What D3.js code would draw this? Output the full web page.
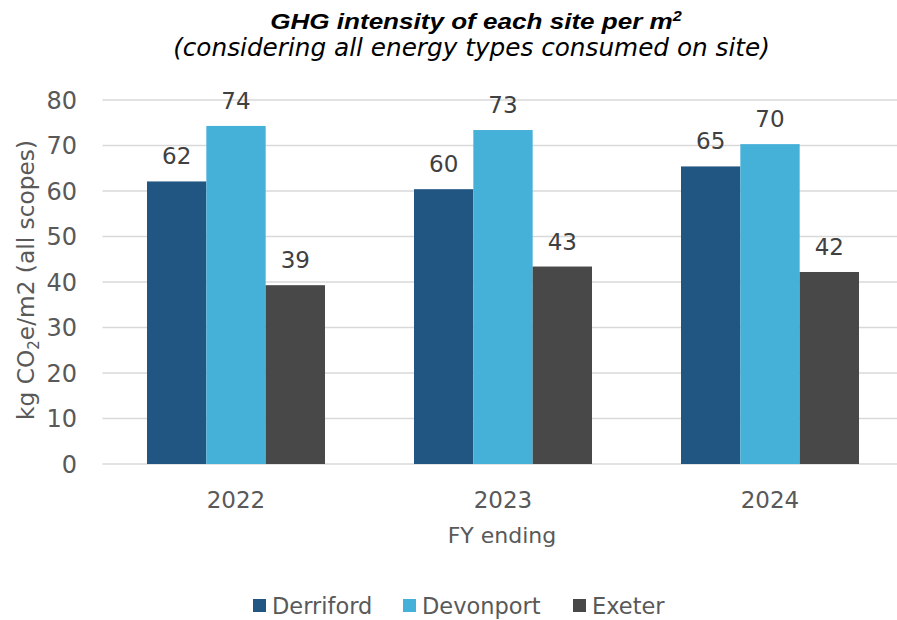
<!DOCTYPE html>
<html><head><meta charset="utf-8">
<script src="https://cdn.jsdelivr.net/npm/d3@7"></script>
<style>
html,body{margin:0;padding:0;background:#fff;}
svg text{font-family:"DejaVu Sans",sans-serif;}
svg text.ttl{font-family:"Liberation Sans",Arial,sans-serif;}
</style></head>
<body><svg id="c" width="897" height="620"></svg>
<script>
const categories = ["2022", "2023", "2024"];
const seriesNames = ["Derriford", "Devonport", "Exeter"];
const derriford = [62.1, 60.4, 65.4];
const devonport = [74.3, 73.4, 70.3];
const exeter = [39.3, 43.4, 42.2];
const yTicks = [0, 10, 20, 30, 40, 50, 60, 70, 80];
const colors = ["#215582", "#45B0D8", "#484848"];

const seriesValues = [derriford, devonport, exeter];
const svg = d3.select("#c");
const pLeft = 102.5, pRight = 903.5, pTop = 100, pBottom = 464;

// scale font-size of a text so its width matches target
function fit(sel, target) {
  const fs = parseFloat(sel.attr("font-size"));
  const w = sel.node().getBBox().width;
  sel.attr("font-size", fs * target / w);
}
// stretch a centered text horizontally to target width
function stretch(sel, cx, target) {
  const w = sel.node().getBBox().width;
  const k = target / w;
  sel.attr("transform", `translate(${cx},0) scale(${k},1) translate(${-cx},0)`);
}

const x = d3.scaleBand().domain(categories).range([pLeft, pRight]).paddingInner(0.3333).paddingOuter(0.16665);
const xs = d3.scaleBand().domain(seriesNames).range([0, x.bandwidth()]);
const y = d3.scaleLinear().domain([0, 80]).range([pBottom, pTop]);

// gridlines
svg.append("g").selectAll("line").data(yTicks).join("line")
  .attr("x1", pLeft).attr("x2", 897)
  .attr("y1", d => y(d)).attr("y2", d => y(d))
  .attr("stroke", "#d9d9d9").attr("stroke-width", 1.5);

// y tick labels
svg.append("g").selectAll("text").data(yTicks).join("text")
  .attr("x", 77).attr("y", d => y(d)).attr("dy", "0.36em")
  .attr("text-anchor", "end").attr("font-size", 24).attr("fill", "#595959")
  .text(d => d);

// bars
const groups = svg.append("g").selectAll("g").data(categories).join("g")
  .attr("transform", d => `translate(${x(d)},0)`);
const cells = (c, i) => seriesNames.map((s, j) => ({s, v: seriesValues[j][i], j}));
groups.selectAll("rect").data(cells).join("rect")
  .attr("x", d => xs(d.s)).attr("width", xs.bandwidth())
  .attr("y", d => y(d.v)).attr("height", d => y(0) - y(d.v))
  .attr("fill", d => colors[d.j]);
groups.selectAll("text").data(cells).join("text")
  .attr("x", d => xs(d.s) + xs.bandwidth() / 2).attr("y", d => y(d.v) - 17)
  .attr("text-anchor", "middle").attr("font-size", 23).attr("fill", "#404040")
  .text(d => Math.round(d.v));

// x tick labels
svg.append("g").selectAll("text").data(categories).join("text")
  .attr("x", d => x(d) + x.bandwidth() / 2).attr("y", 508)
  .attr("text-anchor", "middle").attr("font-size", 23).attr("fill", "#595959")
  .text(d => d);

// x axis title
svg.append("text").attr("x", 502).attr("y", 543).attr("text-anchor", "middle")
  .attr("font-size", 22).attr("fill", "#595959").text("FY ending");

// y axis title
const yt = svg.append("text").attr("transform", "translate(34,280) rotate(-90)")
  .attr("text-anchor", "middle").attr("font-size", 23).attr("fill", "#595959");
yt.append("tspan").text("kg CO");
yt.append("tspan").attr("font-size", "0.65em").attr("dy", "0.3em").text("2");
yt.append("tspan").attr("dy", "-0.2em").text("e/m2 (all scopes)");
fit(yt, 280);

// title
const t = svg.append("text").attr("class", "ttl").attr("x", 476).attr("y", 29).attr("text-anchor", "middle")
  .attr("font-size", 22.5).attr("font-weight", "bold").attr("font-style", "italic").attr("fill", "#000");
t.append("tspan").text("GHG intensity of each site per m");
t.append("tspan").attr("font-size", "0.62em").attr("dy", "-0.6em").text("2");
stretch(t, 476, 412);
const st = svg.append("text").attr("x", 471.5).attr("y", 56).attr("text-anchor", "middle")
  .attr("font-size", 21).attr("font-style", "italic").attr("fill", "#000")
  .text("(considering all energy types consumed on site)");
fit(st, 597);

// legend
const legX = [253, 403, 573];
const leg = svg.append("g").selectAll("g").data(seriesNames).join("g")
  .attr("transform", (d, i) => `translate(${legX[i]},599)`);
leg.append("rect").attr("width", 13).attr("height", 13).attr("fill", (d, i) => colors[i]);
leg.append("text").attr("x", 19).attr("y", 6.5).attr("dy", "0.36em")
  .attr("font-size", 22.5).attr("fill", "#595959").text(d => d);
</script></body></html>
